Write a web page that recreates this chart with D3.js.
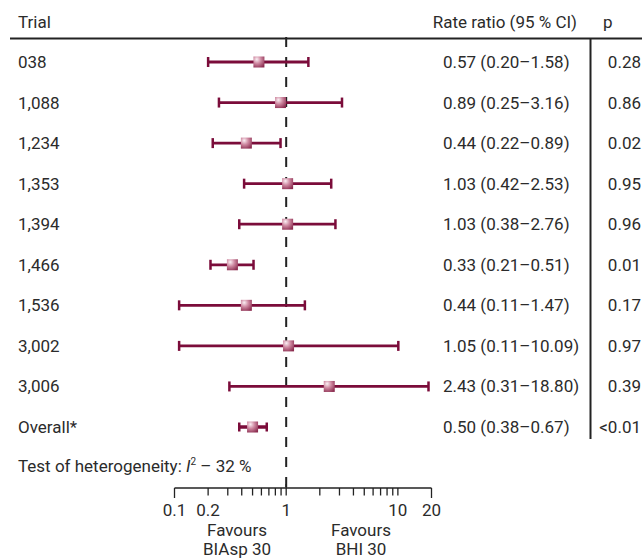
<!DOCTYPE html>
<html>
<head>
<meta charset="utf-8">
<script src="https://cdn.jsdelivr.net/npm/d3@7"></script>
<style>
  body { margin: 0; background: #fff; }
  text { font-family: Roboto, "Liberation Sans", sans-serif; fill: #2b2b2b; font-size: 17px; }
</style>
</head>
<body>
<script>
var trials = ['038', '1,088', '1,234', '1,353', '1,394', '1,466', '1,536', '3,002', '3,006', 'Overall*'];
var ratio  = [0.57, 0.89, 0.44, 1.03, 1.03, 0.33, 0.44, 1.05, 2.43, 0.50];
var lower  = [0.20, 0.25, 0.22, 0.42, 0.38, 0.21, 0.11, 0.11, 0.31, 0.38];
var upper  = [1.58, 3.16, 0.89, 2.53, 2.76, 0.51, 1.47, 10.09, 18.80, 0.67];
var pvals  = ['0.28', '0.86', '0.02', '0.95', '0.96', '0.01', '0.17', '0.97', '0.39', '<0.01'];
var tickVals = [0.1, 0.2, 0.3, 0.4, 0.5, 0.6, 0.7, 0.8, 0.9, 1, 2, 3, 4, 5, 6, 7, 8, 9, 10, 20];
var tickLabels = ['0.1', '0.2', '1', '10', '20'];

var svg = d3.select('body').append('svg')
  .attr('width', 642)
  .attr('height', 558);

var defs = svg.append('defs');
var grad = defs.append('radialGradient').attr('id', 'sq')
  .attr('cx', '35%').attr('cy', '30%').attr('r', '80%').attr('fx', '30%').attr('fy', '25%');
grad.append('stop').attr('offset', '0%').attr('stop-color', '#fbf0f4');
grad.append('stop').attr('offset', '45%').attr('stop-color', '#cf8aa2');
grad.append('stop').attr('offset', '100%').attr('stop-color', '#8c2d50');

var x = d3.scaleLog().domain([0.1, 20]).range([174.5, 431.5]);
var y = d3.scalePoint().domain(trials).range([62, 427]);

var red = '#7b0c3a';
var data = trials.map(function(t, i) {
  return {name: t, r: ratio[i], lo: lower[i], hi: upper[i], p: pvals[i], overall: i === trials.length - 1};
});

// header
svg.append('text').attr('x', 18).attr('y', 28).text('Trial');
svg.append('text').attr('x', 577).attr('y', 28).attr('text-anchor', 'end').text('Rate ratio (95 % CI)');
svg.append('text').attr('x', 603).attr('y', 28).text('p');
svg.append('line').attr('x1', 10).attr('x2', 642).attr('y1', 38.5).attr('y2', 38.5)
  .attr('stroke', '#222').attr('stroke-width', 2);
svg.append('line').attr('x1', 590.5).attr('x2', 590.5).attr('y1', 38).attr('y2', 439)
  .attr('stroke', '#222').attr('stroke-width', 2);

// null line
svg.append('line').attr('x1', x(1)).attr('x2', x(1)).attr('y1', 37).attr('y2', 488)
  .attr('stroke', '#222').attr('stroke-width', 2).attr('stroke-dasharray', '10,10');

var rows = svg.selectAll('g.row').data(data).enter().append('g').attr('class', 'row')
  .attr('transform', function(d) { return 'translate(0,' + y(d.name) + ')'; });

rows.append('text').attr('x', 18).attr('dy', '0.35em')
  .text(function(d) { return d.name; });
rows.append('text').attr('x', 443).attr('dy', '0.35em')
  .text(function(d) { return d.r.toFixed(2) + ' (' + d.lo.toFixed(2) + '\u2013' + d.hi.toFixed(2) + ')'; });
rows.append('text').attr('x', 641).attr('dy', '0.35em').attr('text-anchor', 'end')
  .text(function(d) { return d.p; });

rows.append('line')
  .attr('x1', function(d) { return x(d.lo); })
  .attr('x2', function(d) { return x(d.hi); })
  .attr('stroke', red).attr('stroke-width', function(d) { return d.overall ? 3.5 : 2.8; });
rows.append('line')
  .attr('x1', function(d) { return x(d.lo); }).attr('x2', function(d) { return x(d.lo); })
  .attr('y1', function(d) { return d.overall ? -4.5 : -5; }).attr('y2', function(d) { return d.overall ? 4.5 : 5; })
  .attr('stroke', red).attr('stroke-width', 2.5);
rows.append('line')
  .attr('x1', function(d) { return x(d.hi); }).attr('x2', function(d) { return x(d.hi); })
  .attr('y1', function(d) { return d.overall ? -4.5 : -5; }).attr('y2', function(d) { return d.overall ? 4.5 : 5; })
  .attr('stroke', red).attr('stroke-width', 2.5);
rows.append('rect')
  .attr('x', function(d) { return x(d.r) - 5.5; })
  .attr('y', -5.5).attr('width', 11).attr('height', 11)
  .attr('fill', 'url(#sq)');

// heterogeneity
var het = svg.append('text').attr('x', 18).attr('y', 472);
het.append('tspan').text('Test of heterogeneity: ');
het.append('tspan').style('font-style', 'italic').text('I');
het.append('tspan').attr('dy', -7).style('font-size', '10px').text('2');
het.append('tspan').attr('dy', 7).text(' \u2013 32 %');

// axis
var axis = svg.append('g').attr('transform', 'translate(0,488)');
axis.append('line').attr('x1', x(0.1)).attr('x2', x(20)).attr('stroke', '#222').attr('stroke-width', 1.5);
axis.selectAll('line.tick').data(tickVals).enter().append('line').attr('class', 'tick')
  .attr('x1', function(d) { return x(d); }).attr('x2', function(d) { return x(d); })
  .attr('y1', function(d) { return d === 1 ? -4 : 0; })
  .attr('y2', function(d) { return (d === 0.1 || d === 20) ? 10 : 7.5; })
  .attr('stroke', '#222').attr('stroke-width', 1.3);
axis.selectAll('text.tl').data(tickLabels).enter().append('text').attr('class', 'tl')
  .attr('x', function(d) { return x(+d); }).attr('y', 28)
  .attr('text-anchor', 'middle')
  .text(function(d) { return d; });

var fav = svg.append('g').style('font-size', '16px');
fav.append('text').attr('x', 237).attr('y', 536).attr('text-anchor', 'middle').text('Favours');
fav.append('text').attr('x', 237).attr('y', 555).attr('text-anchor', 'middle').text('BIAsp 30');
fav.append('text').attr('x', 361).attr('y', 536).attr('text-anchor', 'middle').text('Favours');
fav.append('text').attr('x', 361).attr('y', 555).attr('text-anchor', 'middle').text('BHI 30');
</script>
</body>
</html>
